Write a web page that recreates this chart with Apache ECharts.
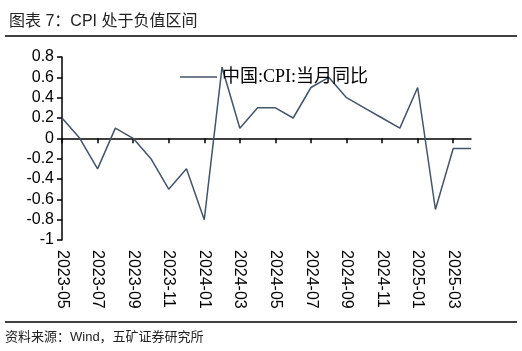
<!DOCTYPE html>
<html>
<head>
<meta charset="utf-8">
<script src="https://cdn.jsdelivr.net/npm/echarts@6/dist/echarts.min.js"></script>
<style>
html,body{margin:0;padding:0;background:#fff;}
#c{width:522px;height:351px;}
</style>
</head>
<body>
<div id="c"></div>
<script>
var categories = ["2023-05","2023-06","2023-07","2023-08","2023-09","2023-10","2023-11","2023-12",
  "2024-01","2024-02","2024-03","2024-04","2024-05","2024-06","2024-07","2024-08","2024-09","2024-10","2024-11","2024-12",
  "2025-01","2025-02","2025-03","2025-04"];
var cpiYoY = [0.2,0.0,-0.3,0.1,0.0,-0.2,-0.5,-0.3,-0.8,0.7,0.1,0.3,0.3,0.2,0.5,0.6,0.4,0.3,0.2,0.1,0.5,-0.7,-0.1,-0.1];
var seriesName = "中国:CPI:当月同比";
var titleText = "图表 7：CPI 处于负值区间";
var sourceText = "资料来源：Wind，五矿证券研究所";

var chart = echarts.init(document.getElementById('c'), null, {renderer:'canvas'});
var sans = "'Liberation Sans', Arial, 'Noto Sans CJK SC', sans-serif";
chart.setOption({
  animation:false,
  backgroundColor:'#fff',
  title:{text:titleText,left:4,top:9,textStyle:{fontSize:16,fontWeight:'normal',color:'#222',fontFamily:sans}},
  graphic:[
    {type:'line',shape:{x1:5,y1:36,x2:517,y2:36},style:{stroke:'#000',lineWidth:1.5}},
    {type:'line',shape:{x1:5,y1:322,x2:517,y2:322},style:{stroke:'#000',lineWidth:1.5}},
    {type:'text',left:5,top:331,style:{text:sourceText,fontSize:13,fill:'#222',fontFamily:sans}}
  ],
  legend:{
    data:[{name:seriesName,icon:'rect'}],left:175,top:63,itemWidth:37,itemHeight:1.5,itemGap:6,
    itemStyle:{color:'#44546A'},
    textStyle:{fontSize:18,color:'#000',fontFamily:"'Liberation Serif','Times New Roman','Noto Sans CJK SC',serif"}
  },
  grid:{left:62,right:51,top:57,bottom:111,containLabel:false},
  xAxis:[
    {type:'category',data:categories,boundaryGap:false,
     axisLine:{onZero:true,lineStyle:{color:'#000',width:1.5}},
     axisTick:{interval:1,length:5,lineStyle:{color:'#000',width:1.5}},
     axisLabel:{show:false},splitLine:{show:false}},
    {type:'category',data:categories,boundaryGap:false,position:'bottom',
     axisLine:{show:false,onZero:false},axisTick:{show:false},
     axisLabel:{interval:1,rotate:-90,margin:10,fontSize:16,color:'#000',fontFamily:sans},
     splitLine:{show:false}}
  ],
  yAxis:{type:'value',min:-1,max:0.8,interval:0.2,
    axisLine:{show:true,lineStyle:{color:'#000',width:1.5}},
    axisTick:{show:true,length:5,lineStyle:{color:'#000',width:1.5}},
    axisLabel:{margin:8,fontSize:16,color:'#000',fontFamily:sans,
      formatter:function(v){return String(Math.round(v*10)/10);}},
    splitLine:{show:false}},
  series:[{name:seriesName,type:'line',data:cpiYoY,symbol:'none',xAxisIndex:0,
    lineStyle:{color:'#44546A',width:1.5},itemStyle:{color:'#44546A'}}]
});
</script>
</body>
</html>
